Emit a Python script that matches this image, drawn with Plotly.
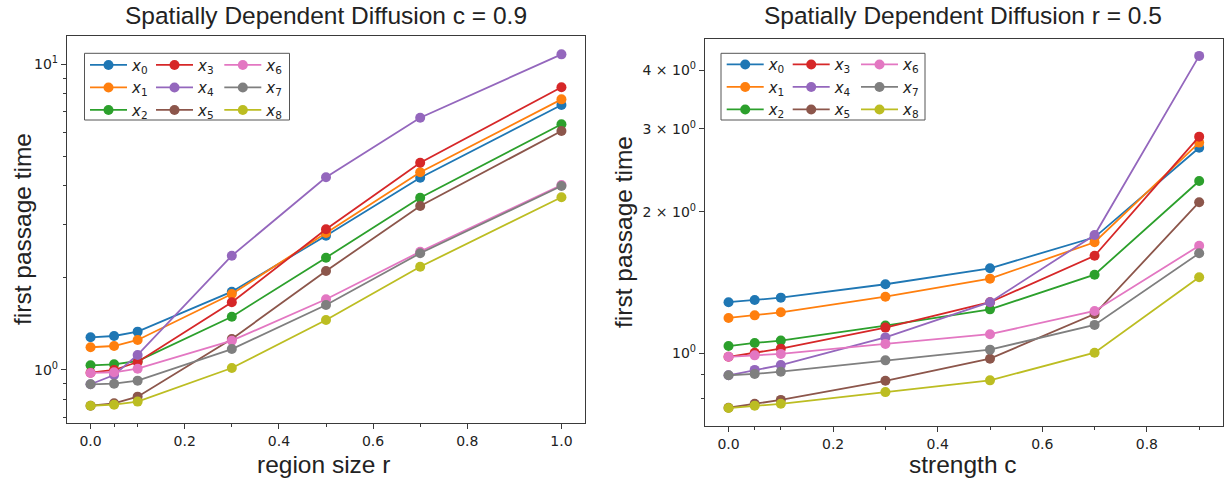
import plotly.graph_objects as go

# Sampled parameter values
region_sizes = [0.0, 0.05, 0.1, 0.3, 0.5, 0.7, 1.0]   # left panel, c = 0.9
strengths = [0.0, 0.05, 0.1, 0.3, 0.5, 0.7, 0.9]      # right panel, r = 0.5

series_labels = ["x0", "x1", "x2", "x3", "x4", "x5", "x6", "x7", "x8"]
series_colors = ["#1f77b4", "#ff7f0e", "#2ca02c", "#d62728", "#9467bd",
                 "#8c564b", "#e377c2", "#7f7f7f", "#bcbd22"]

# First passage time vs region size r (c = 0.9)
fpt_r_x0 = [1.279, 1.292, 1.335, 1.804, 2.750, 4.256, 7.36]
fpt_r_x1 = [1.187, 1.198, 1.254, 1.773, 2.806, 4.433, 7.68]
fpt_r_x2 = [1.036, 1.044, 1.070, 1.494, 2.330, 3.662, 6.365]
fpt_r_x3 = [0.980, 1.000, 1.062, 1.665, 2.886, 4.766, 8.41]
fpt_r_x4 = [0.898, 0.963, 1.120, 2.365, 4.270, 6.690, 10.78]
fpt_r_x5 = [0.764, 0.778, 0.818, 1.263, 2.108, 3.440, 6.05]
fpt_r_x6 = [0.978, 0.983, 1.010, 1.247, 1.703, 2.438, 4.03]
fpt_r_x7 = [0.898, 0.902, 0.923, 1.171, 1.632, 2.409, 4.00]
fpt_r_x8 = [0.764, 0.770, 0.788, 1.015, 1.457, 2.177, 3.673]

# First passage time vs strength c (r = 0.5)
fpt_c_x0 = [1.284, 1.298, 1.313, 1.402, 1.516, 1.764, 2.735]
fpt_c_x1 = [1.189, 1.204, 1.222, 1.319, 1.441, 1.722, 2.804]
fpt_c_x2 = [1.036, 1.052, 1.064, 1.145, 1.240, 1.469, 2.324]
fpt_c_x3 = [0.983, 1.003, 1.023, 1.134, 1.284, 1.612, 2.887]
fpt_c_x4 = [0.898, 0.922, 0.944, 1.081, 1.284, 1.784, 4.286]
fpt_c_x5 = [0.766, 0.781, 0.796, 0.874, 0.974, 1.212, 2.095]
fpt_c_x6 = [0.983, 0.990, 0.997, 1.047, 1.098, 1.230, 1.693]
fpt_c_x7 = [0.898, 0.904, 0.914, 0.966, 1.018, 1.149, 1.631]
fpt_c_x8 = [0.765, 0.774, 0.781, 0.827, 0.876, 1.003, 1.451]

fpt_vs_r = [fpt_r_x0, fpt_r_x1, fpt_r_x2, fpt_r_x3, fpt_r_x4,
            fpt_r_x5, fpt_r_x6, fpt_r_x7, fpt_r_x8]
fpt_vs_c = [fpt_c_x0, fpt_c_x1, fpt_c_x2, fpt_c_x3, fpt_c_x4,
            fpt_c_x5, fpt_c_x6, fpt_c_x7, fpt_c_x8]

W, H = 1225, 480
FONT = "DejaVu Sans"
LABEL_FONT = "Liberation Sans"
TXT = "#222222"
FRAME = "#3a3a3a"


def px_x(p):
    return p / W


def px_y(p):
    return 1 - p / H


def legend_text(label):
    return "<i>x</i><sub>%s</sub>" % label[1:]


fig = go.Figure()

panels = [
    (region_sizes, fpt_vs_r, "x", "y", 0),
    (strengths, fpt_vs_c, "x2", "y2", 3),
]
for xs, all_series, xa, ya, legend_offset in panels:
    for i, (ys, lab, col) in enumerate(zip(all_series, series_labels, series_colors)):
        leg_idx = legend_offset + i // 3 + 1
        fig.add_trace(go.Scatter(
            x=xs, y=ys, mode="lines+markers", name=legend_text(lab),
            line=dict(color=col, width=1.8),
            marker=dict(color=col, size=10),
            xaxis=xa, yaxis=ya,
            legend="legend" if leg_idx == 1 else "legend%d" % leg_idx,
        ))

tick_font = dict(family=FONT, size=14, color=TXT)
common_axis = dict(
    showgrid=False, zeroline=False, showline=True, mirror=True,
    linecolor=FRAME, linewidth=1.2, ticks="outside", ticklen=5,
    tickwidth=1, tickcolor=FRAME, tickfont=tick_font,
)

left_dom_x = [px_x(67), px_x(585)]
left_dom_y = [px_y(423), px_y(36)]
right_dom_x = [px_x(705), px_x(1222.7)]
right_dom_y = [px_y(425.7), px_y(39)]

x_major = [0.0, 0.2, 0.4, 0.6, 0.8, 1.0]

fig.update_layout(
    width=W, height=H, margin=dict(l=0, r=0, t=0, b=0),
    paper_bgcolor="white", plot_bgcolor="white",
    xaxis=dict(domain=left_dom_x, anchor="y", range=[-0.05, 1.05],
               tickvals=x_major, ticktext=["%.1f" % v for v in x_major],
               minor=dict(tickvals=[0.05, 0.1, 0.3, 0.5, 0.7], ticks="outside",
                          ticklen=3, tickcolor=FRAME, showgrid=False),
               **common_axis),
    yaxis=dict(domain=left_dom_y, anchor="x", type="log",
               range=[-0.1734, 1.0926],
               tickvals=[1, 10], ticktext=["10<sup>0</sup>", "10<sup>1</sup>"],
               minor=dict(tickvals=[0.7, 0.8, 0.9, 2, 3, 4, 5, 6, 7, 8, 9],
                          ticks="outside", ticklen=3, tickcolor=FRAME,
                          showgrid=False),
               **common_axis),
    xaxis2=dict(domain=right_dom_x, anchor="y2", range=[-0.045, 0.945],
                tickvals=x_major[:-1], ticktext=["%.1f" % v for v in x_major[:-1]],
                minor=dict(tickvals=[0.05, 0.1, 0.3, 0.5, 0.7, 0.9], ticks="outside",
                           ticklen=3, tickcolor=FRAME, showgrid=False),
                **common_axis),
    yaxis2=dict(domain=right_dom_y, anchor="x2", type="log",
                range=[-0.1539, 0.668],
                tickvals=[1, 2, 3, 4],
                ticktext=["10<sup>0</sup>", "2 \u00d7 10<sup>0</sup>",
                          "3 \u00d7 10<sup>0</sup>", "4 \u00d7 10<sup>0</sup>"],
                minor=dict(tickvals=[0.8, 0.9],
                           ticks="outside", ticklen=3, tickcolor=FRAME,
                           showgrid=False),
                **common_axis),
    showlegend=True,
)

# Three-column legends for each panel: one plotly legend per column
legend_cols = [(85, 48.7), (151, 48.7), (219.3, 48.7),
               (721.7, 48.2), (787.7, 48.2), (856, 48.2)]
for k, (lx, ly) in enumerate(legend_cols, start=1):
    key = "legend" if k == 1 else "legend%d" % k
    fig.update_layout({key: dict(
        x=px_x(lx), y=px_y(ly), xanchor="left", yanchor="top",
        bgcolor="rgba(0,0,0,0)", borderwidth=0,
        font=dict(family=FONT, size=15, color=TXT),
        tracegroupgap=0, itemwidth=37,
    )})

# Legend frames
for x0, y0, x1, y1 in [(84.5, 53.3, 289.5, 120), (721, 53.3, 925, 120)]:
    fig.add_shape(type="rect", xref="paper", yref="paper",
                  x0=px_x(x0), x1=px_x(x1), y0=px_y(y1), y1=px_y(y0),
                  line=dict(color="#555555", width=1), fillcolor="rgba(0,0,0,0)")

# Titles and axis labels
texts = [
    (326.5, 16, "Spatially Dependent Diffusion c = 0.9", 0),
    (963, 16, "Spatially Dependent Diffusion r = 0.5", 0),
    (323.5, 464, "region size r", 0),
    (962.5, 464, "strength c", 0),
    (22, 229, "first passage time", -90),
    (623, 232, "first passage time", -90),
]
for x, y, t, ang in texts:
    fig.add_annotation(x=px_x(x), y=px_y(y), xref="paper", yref="paper",
                       text=t, showarrow=False, textangle=ang,
                       xanchor="center", yanchor="middle",
                       font=dict(family=LABEL_FONT, size=24.5, color=TXT))

fig.write_html("out.html")
